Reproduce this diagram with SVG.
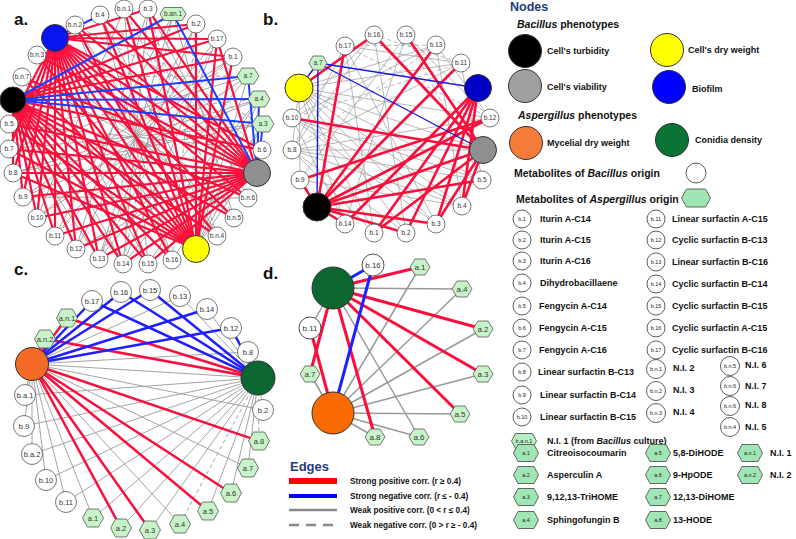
<svg xmlns="http://www.w3.org/2000/svg" xmlns:xlink="http://www.w3.org/1999/xlink" width="796" height="539" viewBox="0 0 796 539">
<style>
text{font-family:"Liberation Sans",Arial,Helvetica,sans-serif}
.pl{font-size:17px;font-weight:bold;fill:#111}
.n{fill:#fff;stroke:#555;stroke-width:0.8}
.hx{fill:#c8f3c8;stroke:#555;stroke-width:0.8}
.hxl{fill:#a0e6b4;stroke:#444;stroke-width:0.8}
.big{stroke:#333;stroke-width:1}
.ta{font-size:6.5px;fill:#333;text-anchor:middle}
.tc{font-size:7.5px;fill:#333;text-anchor:middle}
.td{font-size:8px;fill:#333;text-anchor:middle}
.tl{font-size:5.5px;fill:#222;text-anchor:middle}
.lg{font-size:9px;font-weight:bold;fill:#111}
.lh{font-size:10.5px;font-weight:bold;fill:#111}
.ttl{font-size:12.5px;font-weight:bold;fill:#1f3c80}
.le{font-size:8.2px;font-weight:bold;fill:#111}
path{fill:none}
.ra{stroke:#fa0f3c;stroke-width:2.2}
.ba{stroke:#1f3cff;stroke-width:2}
.ga{stroke:#9a9a9a;stroke-width:0.9}
.gad{stroke:#9a9a9a;stroke-width:0.9;stroke-dasharray:4,3}
.rb{stroke:#fa0f3c;stroke-width:2.6}
.bb{stroke:#1a1ad9;stroke-width:1.4}
.gb{stroke:#a5a5a5;stroke-width:0.8}
.gbd{stroke:#a5a5a5;stroke-width:0.8;stroke-dasharray:4,3}
.rc{stroke:#fa0f3c;stroke-width:2.5}
.bc{stroke:#1f1fff;stroke-width:2.5}
.gc{stroke:#9a9a9a;stroke-width:0.9}
.gcd{stroke:#9a9a9a;stroke-width:0.9;stroke-dasharray:4,3}
.rd{stroke:#fa0f3c;stroke-width:3}
.bd{stroke:#1f1fff;stroke-width:3}
.gd{stroke:#999;stroke-width:1.5}
</style>
<defs>
<polygon id="hA" points="-11,0 -6,-8 6,-8 11,0 6,8 -6,8"/>
<polygon id="hAw" points="-13,0 -9,-6.5 9,-6.5 13,0 9,6.5 -9,6.5"/>
<polygon id="hB" points="-9,0 -5,-7 5,-7 9,0 5,7 -5,7"/>
<polygon id="hC" points="-10.5,0 -5.5,-9 5.5,-9 10.5,0 5.5,9 -5.5,9"/>
<polygon id="hD" points="-10,0 -5,-8 5,-8 10,0 5,8 -5,8"/>
<polygon id="hL" points="-12.5,0 -8,-8.5 8,-8.5 12.5,0 8,8.5 -8,8.5"/>
<polygon id="hLw" points="-14.5,0 -9.5,-9 9.5,-9 14.5,0 9.5,9 -9.5,9"/>
<polygon id="hLb" points="-12.5,0 -8.5,-7.5 8.5,-7.5 12.5,0 8.5,7.5 -8.5,7.5"/>
</defs>

<text class="pl" x="14" y="25">a.</text>
<text class="pl" x="263" y="25">b.</text>
<text class="pl" x="14" y="275">c.</text>
<text class="pl" x="263" y="279">d.</text>

<g id="connectors">
<g id="edges-a">
<path class="ga" d="M124,9 37,218"/><path class="ga" d="M148,9 76,249"/><path class="ga" d="M173,14 55,236"/><path class="ga" d="M196,24 99,259"/><path class="ga" d="M217,39 123,264"/><path class="ga" d="M233,57 23,197"/><path class="ga" d="M248,76 37,218"/><path class="ga" d="M259,99 13,173"/><path class="ga" d="M263,124 9,149"/><path class="ga" d="M262,150 9,124"/><path class="ga" d="M248,198 22,77"/><path class="ga" d="M234,218 37,55"/><path class="ga" d="M217,236 75,25"/><path class="ga" d="M172,260 100,15"/><path class="ga" d="M148,264 124,9"/><path class="ga" d="M123,264 148,9"/><path class="ga" d="M99,259 173,14"/><path class="ga" d="M76,249 196,24"/><path class="ga" d="M55,236 217,39"/><path class="ga" d="M37,218 233,57"/><path class="ga" d="M248,76 99,259"/><path class="ga" d="M259,99 123,264"/><path class="ga" d="M173,14 234,218"/><path class="ga" d="M148,9 248,198"/><path class="ga" d="M196,249 262,150"/><path class="ga" d="M196,249 263,124"/><path class="ga" d="M196,249 259,99"/><path class="ga" d="M196,249 248,76"/><path class="ga" d="M263,124 172,260"/><path class="ga" d="M259,99 148,264"/><path class="ga" d="M262,150 76,249"/><path class="ga" d="M248,198 23,197"/><path class="ga" d="M100,15 217,236"/><path class="ga" d="M75,25 172,260"/><path class="ga" d="M37,55 148,264"/><path class="ga" d="M22,77 123,264"/><path class="ga" d="M9,124 99,259"/><path class="ga" d="M9,149 248,76"/><path class="ga" d="M13,173 263,124"/><path class="ga" d="M23,197 259,99"/>
<path class="gad" d="M196,24 172,260"/><path class="gad" d="M217,39 99,259"/><path class="gad" d="M233,57 55,236"/><path class="gad" d="M248,76 22,77"/><path class="gad" d="M259,99 9,124"/><path class="gad" d="M124,9 234,218"/><path class="gad" d="M148,9 217,236"/><path class="gad" d="M100,15 262,150"/><path class="gad" d="M173,14 123,264"/><path class="gad" d="M75,25 263,124"/>
<path class="ra" d="M13,100 196,24"/><path class="ra" d="M13,100 217,39"/><path class="ra" d="M13,100 233,57"/><path class="ra" d="M13,100 262,150"/><path class="ra" d="M13,100 248,198"/><path class="ra" d="M13,100 234,218"/><path class="ra" d="M13,100 217,236"/><path class="ra" d="M13,100 196,249"/><path class="ra" d="M13,100 172,260"/><path class="ra" d="M13,100 148,264"/><path class="ra" d="M13,100 123,264"/><path class="ra" d="M13,100 99,259"/><path class="ra" d="M13,100 76,249"/><path class="ra" d="M13,100 55,236"/><path class="ra" d="M13,100 37,218"/><path class="ra" d="M13,100 23,197"/><path class="ra" d="M13,100 13,173"/>
<path class="ra" d="M55,38 148,9"/><path class="ra" d="M55,38 196,24"/><path class="ra" d="M55,38 217,39"/><path class="ra" d="M55,38 233,57"/><path class="ra" d="M55,38 262,150"/><path class="ra" d="M55,38 257,173"/><path class="ra" d="M55,38 248,198"/><path class="ra" d="M55,38 234,218"/><path class="ra" d="M55,38 217,236"/><path class="ra" d="M55,38 196,249"/><path class="ra" d="M55,38 172,260"/><path class="ra" d="M55,38 148,264"/><path class="ra" d="M55,38 123,264"/><path class="ra" d="M55,38 99,259"/><path class="ra" d="M55,38 76,249"/><path class="ra" d="M55,38 55,236"/><path class="ra" d="M55,38 37,218"/><path class="ra" d="M55,38 23,197"/><path class="ra" d="M55,38 13,173"/><path class="ra" d="M55,38 9,149"/><path class="ra" d="M55,38 9,124"/>
<path class="ra" d="M257,173 13,173"/><path class="ra" d="M257,173 9,149"/><path class="ra" d="M257,173 23,197"/><path class="ra" d="M257,173 37,218"/><path class="ra" d="M257,173 55,236"/><path class="ra" d="M257,173 76,249"/><path class="ra" d="M257,173 99,259"/><path class="ra" d="M257,173 123,264"/><path class="ra" d="M257,173 148,264"/><path class="ra" d="M257,173 9,124"/><path class="ra" d="M257,173 22,77"/><path class="ra" d="M257,173 37,55"/><path class="ra" d="M257,173 75,25"/><path class="ra" d="M257,173 100,15"/><path class="ra" d="M257,173 124,9"/><path class="ra" d="M257,173 148,9"/><path class="ra" d="M257,173 217,39"/>
<path class="ra" d="M196,249 9,124"/><path class="ra" d="M196,249 9,149"/><path class="ra" d="M196,249 13,173"/><path class="ra" d="M196,249 22,77"/><path class="ra" d="M196,249 37,55"/><path class="ra" d="M196,249 75,25"/><path class="ra" d="M196,249 100,15"/><path class="ra" d="M196,249 124,9"/><path class="ra" d="M196,249 148,9"/><path class="ra" d="M196,249 196,24"/><path class="ra" d="M196,249 217,39"/><path class="ra" d="M196,249 233,57"/>
<path class="ba" d="M13,100 248,76"/><path class="ba" d="M13,100 259,99"/><path class="ba" d="M13,100 263,124"/><path class="ba" d="M13,100 173,14"/><path class="ba" d="M55,38 100,15"/><path class="ba" d="M257,173 248,76"/><path class="ba" d="M257,173 259,99"/><path class="ba" d="M257,173 263,124"/><path class="ba" d="M257,173 173,14"/>
</g>
<g id="edges-b">
<path class="gb" d="M299,88 490,118"/><path class="gb" d="M299,88 482,180"/><path class="gb" d="M299,88 462,206"/><path class="gb" d="M299,88 436,224"/><path class="gb" d="M299,88 406,233"/><path class="gb" d="M299,88 374,233"/><path class="gb" d="M299,88 345,224"/><path class="gb" d="M299,88 300,180"/><path class="gb" d="M299,88 292,150"/><path class="gb" d="M299,88 461,63"/><path class="gb" d="M299,88 436,45"/><path class="gb" d="M299,88 483,150"/>
<path class="gb" d="M345,46 292,150"/><path class="gb" d="M374,35 292,118"/><path class="gb" d="M374,35 292,150"/><path class="gb" d="M406,35 300,180"/><path class="gb" d="M436,45 292,118"/><path class="gb" d="M436,45 490,118"/><path class="gb" d="M461,63 292,150"/><path class="gb" d="M490,118 292,150"/><path class="gb" d="M482,180 292,150"/><path class="gb" d="M462,206 292,118"/><path class="gb" d="M436,224 292,118"/><path class="gb" d="M406,233 292,150"/><path class="gb" d="M374,233 292,150"/><path class="gb" d="M345,224 292,118"/><path class="gb" d="M345,46 374,233"/><path class="gb" d="M374,35 406,233"/><path class="gb" d="M406,35 345,224"/><path class="gb" d="M436,45 462,206"/><path class="gb" d="M461,63 482,180"/><path class="gb" d="M345,46 436,224"/><path class="gb" d="M292,150 462,206"/><path class="gb" d="M300,180 462,206"/><path class="gb" d="M292,150 483,150"/><path class="gb" d="M292,118 482,180"/><path class="gb" d="M345,46 461,63"/><path class="gb" d="M406,35 490,118"/>
<path class="gbd" d="M374,35 461,63"/><path class="gbd" d="M406,35 482,180"/><path class="gbd" d="M345,46 490,118"/><path class="gbd" d="M436,45 292,150"/><path class="gbd" d="M461,63 292,118"/><path class="gbd" d="M345,46 436,45"/>
<path class="rb" d="M317,207 345,46"/><path class="rb" d="M317,207 436,45"/><path class="rb" d="M317,207 461,63"/><path class="rb" d="M317,207 490,118"/><path class="rb" d="M317,207 483,150"/><path class="rb" d="M317,207 482,180"/><path class="rb" d="M317,207 436,224"/><path class="rb" d="M317,207 406,233"/><path class="rb" d="M317,207 345,224"/><path class="rb" d="M317,207 300,180"/><path class="rb" d="M299,88 374,35"/><path class="rb" d="M374,35 483,150"/><path class="rb" d="M406,35 483,150"/><path class="rb" d="M292,118 483,150"/><path class="rb" d="M300,180 490,118"/><path class="rb" d="M478,88 374,233"/><path class="rb" d="M478,88 406,233"/><path class="rb" d="M478,88 436,224"/><path class="rb" d="M478,88 462,206"/><path class="rb" d="M478,88 345,224"/><path class="rb" d="M483,150 374,233"/><path class="rb" d="M483,150 462,206"/><path class="rb" d="M483,150 436,224"/>
<path class="bb" d="M318,63 299,88"/><path class="bb" d="M318,63 317,207"/><path class="bb" d="M318,63 478,88"/><path class="bb" d="M318,63 483,150"/>
</g>
<g id="edges-c">
<path class="gc" d="M32,364 180,296"/><path class="gc" d="M258,378 180,296"/><path class="gc" d="M258,378 207,309"/><path class="gc" d="M258,378 248,352"/><path class="gc" d="M32,364 248,352"/><path class="gc" d="M32,364 263,410"/><path class="gc" d="M32,364 248,468"/><path class="gc" d="M32,364 180,524"/><path class="gc" d="M32,364 93,518"/><path class="gc" d="M32,364 66,502"/><path class="gc" d="M32,364 46,480"/><path class="gc" d="M32,364 32,454"/><path class="gc" d="M32,364 24,426"/><path class="gc" d="M32,364 25,395"/><path class="gc" d="M32,364 258,378"/>
<path class="gc" d="M258,378 25,395"/><path class="gc" d="M258,378 24,426"/><path class="gc" d="M258,378 32,454"/><path class="gc" d="M258,378 46,480"/><path class="gc" d="M258,378 66,502"/><path class="gc" d="M258,378 93,518"/><path class="gc" d="M258,378 121,528"/><path class="gc" d="M258,378 150,530"/><path class="gc" d="M258,378 208,511"/><path class="gc" d="M258,378 231,493"/><path class="gc" d="M258,378 248,468"/><path class="gc" d="M258,378 263,410"/>
<path class="gcd" d="M258,378 180,524"/><path class="gcd" d="M258,378 259,441"/>
<path class="rc" d="M67,318 258,378"/><path class="rc" d="M45,339 258,378"/><path class="rc" d="M67,318 32,364"/><path class="rc" d="M45,339 32,364"/><path class="rc" d="M32,364 121,528"/><path class="rc" d="M32,364 150,530"/><path class="rc" d="M32,364 208,511"/><path class="rc" d="M32,364 231,493"/><path class="rc" d="M32,364 259,441"/>
<path class="bc" d="M32,364 92,301"/><path class="bc" d="M32,364 121,292"/><path class="bc" d="M32,364 150,290"/><path class="bc" d="M32,364 207,309"/><path class="bc" d="M32,364 231,328"/><path class="bc" d="M258,378 92,301"/><path class="bc" d="M258,378 121,292"/><path class="bc" d="M258,378 150,290"/><path class="bc" d="M258,378 231,328"/>
</g>
<g id="edges-d">
<path class="gd" d="M333,288 462,289"/><path class="gd" d="M333,288 419,437"/><path class="gd" d="M333,288 310,328"/><path class="gd" d="M333,413 420,267"/><path class="gd" d="M333,413 462,289"/><path class="gd" d="M333,413 483,329"/><path class="gd" d="M333,413 483,374"/><path class="gd" d="M333,413 460,414"/><path class="gd" d="M333,413 419,437"/><path class="gd" d="M333,413 375,437"/><path class="gd" d="M333,413 310,374"/>
<path class="rd" d="M333,288 420,267"/><path class="rd" d="M333,288 483,329"/><path class="rd" d="M333,288 483,374"/><path class="rd" d="M333,288 460,414"/><path class="rd" d="M333,288 375,437"/><path class="rd" d="M333,288 310,374"/><path class="rd" d="M310,328 333,413"/>
<path class="bd" d="M333,288 373,265"/><path class="bd" d="M373,265 333,413"/>
</g>
</g>

<g id="nodes-a">
<g id="a-black"><circle class="big" cx="13" cy="100" r="13" fill="#000"/></g>
<g id="a-blue"><circle class="big" cx="55" cy="38" r="13.5" fill="#0a14f0"/></g>
<g id="a-gray"><circle class="big" cx="257" cy="173" r="13.5" fill="#8f8f8f"/></g>
<g id="a-yellow"><circle class="big" cx="196" cy="249" r="13.5" fill="#ffff00"/></g>
<g id="a-b4"><circle class="n" cx="100" cy="15" r="9"/><text class="ta" x="100" y="17.3">b.4</text></g>
<g id="a-bn1"><circle class="n" cx="124" cy="9" r="9"/><text class="ta" x="124" y="11.3">b.n.1</text></g>
<g id="a-b3"><circle class="n" cx="148" cy="9" r="9"/><text class="ta" x="148" y="11.3">b.3</text></g>
<g id="a-ban1"><use xlink:href="#hAw" x="173" y="14" class="hx"/><text class="ta" x="173" y="16.3">b.an.1</text></g>
<g id="a-b2"><circle class="n" cx="196" cy="24" r="9"/><text class="ta" x="196" y="26.3">b.2</text></g>
<g id="a-b17"><circle class="n" cx="217" cy="39" r="9"/><text class="ta" x="217" y="41.3">b.17</text></g>
<g id="a-b1"><circle class="n" cx="233" cy="57" r="9"/><text class="ta" x="233" y="59.3">b.1</text></g>
<g id="a-a7"><use xlink:href="#hA" x="248" y="76" class="hx"/><text class="ta" x="248" y="78.3">a.7</text></g>
<g id="a-a4"><use xlink:href="#hA" x="259" y="99" class="hx"/><text class="ta" x="259" y="101.3">a.4</text></g>
<g id="a-a3"><use xlink:href="#hA" x="263" y="124" class="hx"/><text class="ta" x="263" y="126.3">a.3</text></g>
<g id="a-b6"><circle class="n" cx="262" cy="150" r="9"/><text class="ta" x="262" y="152.3">b.6</text></g>
<g id="a-bn6"><circle class="n" cx="248" cy="198" r="9"/><text class="ta" x="248" y="200.3">b.n.6</text></g>
<g id="a-bn5"><circle class="n" cx="234" cy="218" r="9"/><text class="ta" x="234" y="220.3">b.n.5</text></g>
<g id="a-bn4"><circle class="n" cx="217" cy="236" r="9"/><text class="ta" x="217" y="238.3">b.n.4</text></g>
<g id="a-b16"><circle class="n" cx="172" cy="260" r="9"/><text class="ta" x="172" y="262.3">b.16</text></g>
<g id="a-b15"><circle class="n" cx="148" cy="264" r="9"/><text class="ta" x="148" y="266.3">b.15</text></g>
<g id="a-b14"><circle class="n" cx="123" cy="264" r="9"/><text class="ta" x="123" y="266.3">b.14</text></g>
<g id="a-b13"><circle class="n" cx="99" cy="259" r="9"/><text class="ta" x="99" y="261.3">b.13</text></g>
<g id="a-b12"><circle class="n" cx="76" cy="249" r="9"/><text class="ta" x="76" y="251.3">b.12</text></g>
<g id="a-b11"><circle class="n" cx="55" cy="236" r="9"/><text class="ta" x="55" y="238.3">b.11</text></g>
<g id="a-b10"><circle class="n" cx="37" cy="218" r="9"/><text class="ta" x="37" y="220.3">b.10</text></g>
<g id="a-b9"><circle class="n" cx="23" cy="197" r="9"/><text class="ta" x="23" y="199.3">b.9</text></g>
<g id="a-b8"><circle class="n" cx="13" cy="173" r="9"/><text class="ta" x="13" y="175.3">b.8</text></g>
<g id="a-b7"><circle class="n" cx="9" cy="149" r="9"/><text class="ta" x="9" y="151.3">b.7</text></g>
<g id="a-b5"><circle class="n" cx="9" cy="124" r="9"/><text class="ta" x="9" y="126.3">b.5</text></g>
<g id="a-bn7"><circle class="n" cx="22" cy="77" r="9"/><text class="ta" x="22" y="79.3">b.n.7</text></g>
<g id="a-bn3"><circle class="n" cx="37" cy="55" r="9"/><text class="ta" x="37" y="57.3">b.n.3</text></g>
<g id="a-bn2"><circle class="n" cx="75" cy="25" r="9"/><text class="ta" x="75" y="27.3">b.n.2</text></g>
</g>

<g id="nodes-b">
<g id="b-black"><circle class="big" cx="317" cy="207" r="14" fill="#000"/></g>
<g id="b-yellow"><circle class="big" cx="299" cy="88" r="14" fill="#ffff00"/></g>
<g id="b-blue"><circle class="big" cx="478" cy="88" r="13.5" fill="#0000c8"/></g>
<g id="b-gray"><circle class="big" cx="483" cy="150" r="13.5" fill="#8f8f8f"/></g>
<g id="b-a7"><use xlink:href="#hB" x="318" y="63" class="hx"/><text class="ta" x="318" y="65.3">a.7</text></g>
<g id="b-b17"><circle class="n" cx="345" cy="46" r="9"/><text class="ta" x="345" y="48.3">b.17</text></g>
<g id="b-b16"><circle class="n" cx="374" cy="35" r="9"/><text class="ta" x="374" y="37.3">b.16</text></g>
<g id="b-b15"><circle class="n" cx="406" cy="35" r="9"/><text class="ta" x="406" y="37.3">b.15</text></g>
<g id="b-b13"><circle class="n" cx="436" cy="45" r="9"/><text class="ta" x="436" y="47.3">b.13</text></g>
<g id="b-b11"><circle class="n" cx="461" cy="63" r="9"/><text class="ta" x="461" y="65.3">b.11</text></g>
<g id="b-b12"><circle class="n" cx="490" cy="118" r="9"/><text class="ta" x="490" y="120.3">b.12</text></g>
<g id="b-b5"><circle class="n" cx="482" cy="180" r="9"/><text class="ta" x="482" y="182.3">b.5</text></g>
<g id="b-b4"><circle class="n" cx="462" cy="206" r="9"/><text class="ta" x="462" y="208.3">b.4</text></g>
<g id="b-b3"><circle class="n" cx="436" cy="224" r="9"/><text class="ta" x="436" y="226.3">b.3</text></g>
<g id="b-b2"><circle class="n" cx="406" cy="233" r="9"/><text class="ta" x="406" y="235.3">b.2</text></g>
<g id="b-b1"><circle class="n" cx="374" cy="233" r="9"/><text class="ta" x="374" y="235.3">b.1</text></g>
<g id="b-b14"><circle class="n" cx="345" cy="224" r="9"/><text class="ta" x="345" y="226.3">b.14</text></g>
<g id="b-b9"><circle class="n" cx="300" cy="180" r="9"/><text class="ta" x="300" y="182.3">b.9</text></g>
<g id="b-b8"><circle class="n" cx="292" cy="150" r="9"/><text class="ta" x="292" y="152.3">b.8</text></g>
<g id="b-b10"><circle class="n" cx="292" cy="118" r="9"/><text class="ta" x="292" y="120.3">b.10</text></g>
</g>

<g id="nodes-c">
<g id="c-green"><circle class="big" cx="258" cy="378" r="17" fill="#0b6630"/></g>
<g id="c-orange"><circle class="big" cx="32" cy="364" r="16.5" fill="#f26a25"/></g>
<g id="c-b17"><circle class="n" cx="92" cy="301" r="10.5"/><text class="tc" x="92" y="303.7">b.17</text></g>
<g id="c-b16"><circle class="n" cx="121" cy="292" r="10.5"/><text class="tc" x="121" y="294.7">b.16</text></g>
<g id="c-b15"><circle class="n" cx="150" cy="290" r="10.5"/><text class="tc" x="150" y="292.7">b.15</text></g>
<g id="c-b13"><circle class="n" cx="180" cy="296" r="10.5"/><text class="tc" x="180" y="298.7">b.13</text></g>
<g id="c-b14"><circle class="n" cx="207" cy="309" r="10.5"/><text class="tc" x="207" y="311.7">b.14</text></g>
<g id="c-b12"><circle class="n" cx="231" cy="328" r="10.5"/><text class="tc" x="231" y="330.7">b.12</text></g>
<g id="c-b8"><circle class="n" cx="248" cy="352" r="10.5"/><text class="tc" x="248" y="354.7">b.8</text></g>
<g id="c-an1"><use xlink:href="#hC" x="67" y="318" class="hx"/><text class="tc" x="67" y="320.7">a.n.1</text></g>
<g id="c-an2"><use xlink:href="#hC" x="45" y="339" class="hx"/><text class="tc" x="45" y="341.7">a.n.2</text></g>
<g id="c-ba1"><circle class="n" cx="25" cy="395" r="10.5"/><text class="tc" x="25" y="397.7">b.a.1</text></g>
<g id="c-b9"><circle class="n" cx="24" cy="426" r="10.5"/><text class="tc" x="24" y="428.7">b.9</text></g>
<g id="c-ba2"><circle class="n" cx="32" cy="454" r="10.5"/><text class="tc" x="32" y="456.7">b.a.2</text></g>
<g id="c-b10"><circle class="n" cx="46" cy="480" r="10.5"/><text class="tc" x="46" y="482.7">b.10</text></g>
<g id="c-b11"><circle class="n" cx="66" cy="502" r="10.5"/><text class="tc" x="66" y="504.7">b.11</text></g>
<g id="c-a1"><use xlink:href="#hC" x="93" y="518" class="hx"/><text class="tc" x="93" y="520.7">a.1</text></g>
<g id="c-a2"><use xlink:href="#hC" x="121" y="528" class="hx"/><text class="tc" x="121" y="530.7">a.2</text></g>
<g id="c-a3"><use xlink:href="#hC" x="150" y="530" class="hx"/><text class="tc" x="150" y="532.7">a.3</text></g>
<g id="c-a4"><use xlink:href="#hC" x="180" y="524" class="hx"/><text class="tc" x="180" y="526.7">a.4</text></g>
<g id="c-a5"><use xlink:href="#hC" x="208" y="511" class="hx"/><text class="tc" x="208" y="513.7">a.5</text></g>
<g id="c-a6"><use xlink:href="#hC" x="231" y="493" class="hx"/><text class="tc" x="231" y="495.7">a.6</text></g>
<g id="c-a7"><use xlink:href="#hC" x="248" y="468" class="hx"/><text class="tc" x="248" y="470.7">a.7</text></g>
<g id="c-a8"><use xlink:href="#hC" x="259" y="441" class="hx"/><text class="tc" x="259" y="443.7">a.8</text></g>
<g id="c-b2"><circle class="n" cx="263" cy="410" r="10.5"/><text class="tc" x="263" y="412.7">b.2</text></g>
</g>

<g id="nodes-d">
<g id="d-green"><circle class="big" cx="333" cy="288" r="21" fill="#0b6630"/></g>
<g id="d-orange"><circle class="big" cx="333" cy="413" r="21" fill="#f96a00"/></g>
<g id="d-b16"><circle class="n" cx="373" cy="265" r="11" style="stroke:#222"/><text class="td" x="373" y="267.8">b.16</text></g>
<g id="d-b11"><circle class="n" cx="310" cy="328" r="11" style="stroke:#222"/><text class="td" x="310" y="330.8">b.11</text></g>
<g id="d-a1"><use xlink:href="#hD" x="420" y="267" class="hx"/><text class="td" x="420" y="269.8">a.1</text></g>
<g id="d-a4"><use xlink:href="#hD" x="462" y="289" class="hx"/><text class="td" x="462" y="291.8">a.4</text></g>
<g id="d-a2"><use xlink:href="#hD" x="483" y="329" class="hx"/><text class="td" x="483" y="331.8">a.2</text></g>
<g id="d-a3"><use xlink:href="#hD" x="483" y="374" class="hx"/><text class="td" x="483" y="376.8">a.3</text></g>
<g id="d-a5"><use xlink:href="#hD" x="460" y="414" class="hx"/><text class="td" x="460" y="416.8">a.5</text></g>
<g id="d-a6"><use xlink:href="#hD" x="419" y="437" class="hx"/><text class="td" x="419" y="439.8">a.6</text></g>
<g id="d-a8"><use xlink:href="#hD" x="375" y="437" class="hx"/><text class="td" x="375" y="439.8">a.8</text></g>
<g id="d-a7"><use xlink:href="#hD" x="310" y="374" class="hx"/><text class="td" x="310" y="376.8">a.7</text></g>
</g>

<g id="legend-edges">
<text class="ttl" x="290" y="471" style="font-size:13px">Edges</text>
<line x1="289" y1="481" x2="337" y2="481" stroke="#ff0000" stroke-width="6"/>
<line x1="289" y1="496" x2="337" y2="496" stroke="#0000ff" stroke-width="4"/>
<line x1="289" y1="510" x2="337" y2="510" stroke="#888" stroke-width="2.5"/>
<line x1="289" y1="525" x2="337" y2="525" stroke="#888" stroke-width="2.5" stroke-dasharray="10,7"/>
<text class="le" x="350" y="484">Strong positive corr. (r ≥ 0.4)</text>
<text class="le" x="350" y="499">Strong negative corr. (r ≤ - 0.4)</text>
<text class="le" x="350" y="513">Weak positive corr. (0 &lt; r ≤ 0.4)</text>
<text class="le" x="350" y="528">Weak negative corr. (0 &gt; r ≥ - 0.4)</text>
</g>

<g id="legend-nodes">
<text class="ttl" x="510" y="11">Nodes</text>
<text class="lh" x="517" y="28"><tspan font-style="italic">Bacillus</tspan> phenotypes</text>
<circle class="big" cx="525" cy="51" r="16.5" fill="#000"/>
<text class="lg" x="547" y="54">Cell's turbidity</text>
<circle class="big" cx="525" cy="86" r="16.5" fill="#a0a0a0"/>
<text class="lg" x="547" y="90">Cell's viability</text>
<circle class="big" cx="667" cy="50" r="16.5" fill="#ffff00"/>
<text class="lg" x="688" y="53">Cell's dry weight</text>
<circle class="big" cx="669" cy="87" r="16.5" fill="#0000ff"/>
<text class="lg" x="692" y="92">Biofilm</text>
<text class="lh" x="518" y="119"><tspan font-style="italic">Aspergillus</tspan> phenotypes</text>
<circle class="big" cx="526" cy="143" r="16.5" fill="#f47b38"/>
<text class="lg" x="547" y="146">Mycelial dry weight</text>
<circle class="big" cx="672" cy="140" r="16.5" fill="#0b7236"/>
<text class="lg" x="695" y="143">Conidia density</text>
<text class="lh" x="514" y="177">Metabolites of <tspan font-style="italic">Bacillus</tspan> origin</text>
<circle class="n" cx="696" cy="173" r="10" style="stroke:#333"/>
<text class="lh" x="516" y="203">Metabolites of <tspan font-style="italic">Aspergillus</tspan> origin</text>
<use xlink:href="#hLw" x="696" y="198" class="hxl"/>

<g class="n" style="stroke:#333">
<circle cx="522" cy="219" r="9"/><circle cx="522" cy="240" r="9"/><circle cx="522" cy="261" r="9"/><circle cx="522" cy="283" r="9"/><circle cx="522" cy="306" r="9"/><circle cx="522" cy="328" r="9"/><circle cx="522" cy="350" r="9"/><circle cx="522" cy="372" r="9"/><circle cx="522" cy="395" r="9"/><circle cx="522" cy="417" r="9"/>
<circle cx="656" cy="219" r="9"/><circle cx="656" cy="240" r="9"/><circle cx="656" cy="262" r="9"/><circle cx="656" cy="284" r="9"/><circle cx="656" cy="306" r="9"/><circle cx="656" cy="328" r="9"/><circle cx="656" cy="350" r="9"/><circle cx="656" cy="369" r="9.5"/><circle cx="656" cy="391" r="9.5"/><circle cx="656" cy="413" r="9.5"/>
<circle cx="730" cy="366" r="9.5"/><circle cx="730" cy="386" r="9.5"/><circle cx="730" cy="406" r="9.5"/><circle cx="730" cy="427" r="9.5"/>
</g>
<text class="tl" x="522" y="221">b.1</text><text class="tl" x="522" y="242">b.2</text><text class="tl" x="522" y="263">b.3</text><text class="tl" x="522" y="285">b.4</text><text class="tl" x="522" y="308">b.5</text><text class="tl" x="522" y="330">b.6</text><text class="tl" x="522" y="352">b.7</text><text class="tl" x="522" y="374">b.8</text><text class="tl" x="522" y="397">b.9</text><text class="tl" x="522" y="419">b.10</text>
<text class="tl" x="656" y="221">b.11</text><text class="tl" x="656" y="242">b.12</text><text class="tl" x="656" y="264">b.13</text><text class="tl" x="656" y="286">b.14</text><text class="tl" x="656" y="308">b.15</text><text class="tl" x="656" y="330">b.16</text><text class="tl" x="656" y="352">b.17</text><text class="tl" x="656" y="371">b.n.1</text><text class="tl" x="656" y="393">b.n.2</text><text class="tl" x="656" y="415">b.n.3</text>
<text class="tl" x="730" y="368">b.n.5</text><text class="tl" x="730" y="388">b.n.6</text><text class="tl" x="730" y="408">b.n.6</text><text class="tl" x="730" y="429">b.n.4</text>
<text class="lg" x="540" y="222">Iturin A-C14</text>
<text class="lg" x="540" y="243">Iturin A-C15</text>
<text class="lg" x="540" y="264">Iturin A-C16</text>
<text class="lg" x="540" y="286">Dihydrobacillaene</text>
<text class="lg" x="539" y="309">Fengycin A-C14</text>
<text class="lg" x="539" y="331">Fengycin A-C15</text>
<text class="lg" x="539" y="353">Fengycin A-C16</text>
<text class="lg" x="538" y="375">Linear surfactin B-C13</text>
<text class="lg" x="540" y="398">Linear surfactin B-C14</text>
<text class="lg" x="540" y="420">Linear surfactin B-C15</text>
<text class="lg" x="672" y="222">Linear surfactin A-C15</text>
<text class="lg" x="672" y="243">Cyclic surfactin B-C13</text>
<text class="lg" x="672" y="265">Linear surfactin B-C16</text>
<text class="lg" x="672" y="287">Cyclic surfactin B-C14</text>
<text class="lg" x="672" y="309">Cyclic surfactin B-C15</text>
<text class="lg" x="672" y="331">Cyclic surfactin A-C15</text>
<text class="lg" x="672" y="353">Cyclic surfactin B-C16</text>
<text class="lg" x="673" y="371">N.I. 2</text>
<text class="lg" x="673" y="393">N.I. 3</text>
<text class="lg" x="673" y="415">N.I. 4</text>
<text class="lg" x="745" y="368">N.I. 6</text>
<text class="lg" x="745" y="389">N.I. 7</text>
<text class="lg" x="745" y="408">N.I. 8</text>
<text class="lg" x="745" y="430">N.I. 5</text>

<use xlink:href="#hLb" x="524" y="441" class="hxl" style="fill:#b6efc6"/>
<text class="tl" x="524" y="443">b.a.n.1</text>
<text class="lg" x="547" y="444">N.I. 1 (from <tspan font-style="italic">Bacillus</tspan> culture)</text>

<use xlink:href="#hL" x="526" y="453" class="hxl" transform="translate(0,0)"/>
<use xlink:href="#hL" x="526" y="475" class="hxl"/>
<use xlink:href="#hL" x="526" y="497" class="hxl"/>
<use xlink:href="#hL" x="526" y="520" class="hxl"/>
<use xlink:href="#hL" x="658" y="453" class="hxl"/>
<use xlink:href="#hL" x="658" y="475" class="hxl"/>
<use xlink:href="#hL" x="658" y="497" class="hxl"/>
<use xlink:href="#hL" x="658" y="520" class="hxl"/>
<use xlink:href="#hL" x="750" y="453" class="hxl"/>
<use xlink:href="#hL" x="750" y="475" class="hxl"/>
<text class="tl" x="526" y="455">a.1</text><text class="tl" x="526" y="477">a.2</text><text class="tl" x="526" y="499">a.3</text><text class="tl" x="526" y="522">a.4</text>
<text class="tl" x="658" y="455">a.5</text><text class="tl" x="658" y="477">a.6</text><text class="tl" x="658" y="499">a.7</text><text class="tl" x="658" y="522">a.8</text>
<text class="tl" x="750" y="455">a.n.1</text><text class="tl" x="750" y="477">a.n.2</text>
<text class="lg" x="547" y="456">Citreoisocoumarin</text>
<text class="lg" x="547" y="478">Asperculin A</text>
<text class="lg" x="547" y="500">9,12,13-TriHOME</text>
<text class="lg" x="547" y="523">Sphingofungin B</text>
<text class="lg" x="673" y="456">5,8-DiHODE</text>
<text class="lg" x="673" y="478">9-HpODE</text>
<text class="lg" x="673" y="500">12,13-DiHOME</text>
<text class="lg" x="673" y="523">13-HODE</text>
<text class="lg" x="770" y="456">N.I. 1</text>
<text class="lg" x="770" y="478">N.I. 2</text>
</g>
</svg>
